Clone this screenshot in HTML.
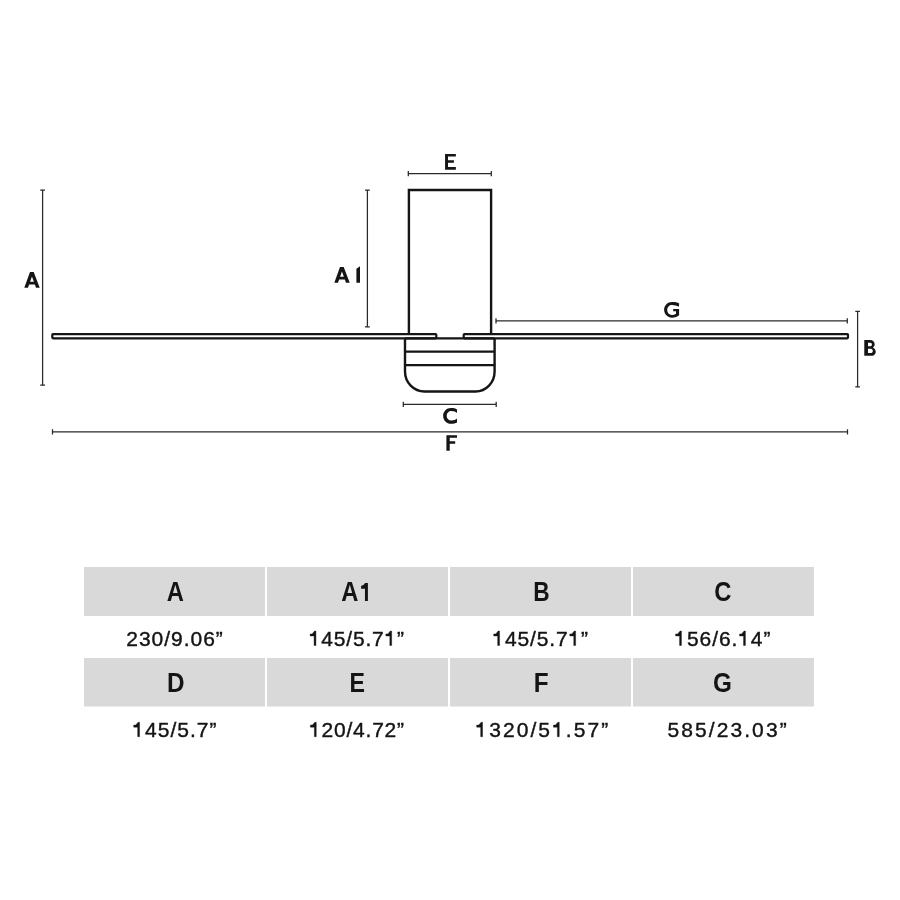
<!DOCTYPE html>
<html><head><meta charset="utf-8">
<style>
html,body{margin:0;padding:0;background:#fff;}
body{width:900px;height:900px;position:relative;overflow:hidden;font-family:"Liberation Sans",sans-serif;}
svg{position:absolute;left:0;top:0;display:block;will-change:transform;}
</style></head><body>
<svg width="900" height="900" viewBox="0 0 900 900">
  <rect x="0" y="0" width="900" height="900" fill="#fff"/>
  <g fill="none" stroke="#151515" stroke-width="2.4">
    <rect x="52.3" y="334.15" width="384.0" height="4.15" rx="0.7" stroke-width="2.2"/>
    <rect x="463.7" y="334.15" width="384.3" height="4.15" rx="0.7" stroke-width="2.2"/>
    <path d="M408.9 334.2 V190 H491.1 V334.2"/>
    <path d="M405 338.4 V371.5 A19.5 20 0 0 0 424.5 391.5 H475.6 A19 20 0 0 0 494.6 371.5 V338.4"/>
    <path d="M405 338.4 H494.6" stroke-width="2.3"/>
    <path d="M405 351.6 H494.6" stroke-width="2.2"/>
    <path d="M405 365.1 H494.6" stroke-width="2.2"/>
  </g>
  <g fill="none" stroke="#2a2a2a" stroke-width="1.25">
    <path d="M42.6 190 V385.2 M40.2 190 H45 M40.2 385.2 H45"/>
    <path d="M367.4 190 V326.8 M365 190 H369.8 M365 326.8 H369.8"/>
    <path d="M408.3 173.6 H491.3 M408.3 171 V176.2 M491.3 171 V176.2"/>
    <path d="M496 320.8 H847.3 M496 318.2 V323.4 M847.3 318.2 V323.4"/>
    <path d="M857.6 311.3 V386.9 M855.3 311.3 H859.9 M855.3 386.9 H859.9"/>
    <path d="M403.3 404.4 H496.2 M403.3 401.8 V407 M496.2 401.8 V407"/>
    <path d="M52.5 431.9 H847.5 M52.5 429.2 V434.4 M847.5 429.2 V434.4"/>
  </g>
  <g fill="#151515" fill-rule="evenodd">
    <path d="M24.3 287.7 L30 272 H33.7 L39.7 287.7 H36 L34.84 284.5 H29.13 L28 287.7 Z M30.08 281.8 H33.87 L31.95 276.5 Z"/>
    <path transform="translate(310 -5)" d="M24.3 287.7 L30 272 H33.7 L39.7 287.7 H36 L34.84 284.5 H29.13 L28 287.7 Z M30.08 281.8 H33.87 L31.95 276.5 Z"/>
    <path d="M356.4 282.7 V268.7 L360 266.2 V282.7 Z"/>
    <path d="M445.07 154 H455.87 V156.6 H448 V160.3 H453.9 V162.7 H448 V167.1 H455.87 V169.87 H445.07 Z"/>
    <path d="M446.4 435.13 H457 V437.67 H449.73 V441.27 H455.2 V443.67 H449.73 V450.73 H446.4 Z"/>
    <path d="M864.27 340 H870.2 C872.8 340 874.67 341.9 874.67 344.3 C874.67 345.9 873.9 347 872.8 347.6 C874.6 348.3 875.73 349.9 875.73 351.9 C875.73 354.2 873.8 355.87 871.2 355.87 H864.27 Z M868 342.67 H870.3 C871.3 342.67 871.9 343.4 871.9 344.45 C871.9 345.5 871.3 346.27 870.3 346.27 H868 Z M868 348.8 H870.8 C872 348.8 872.8 349.8 872.8 350.95 C872.8 352.2 872 353.07 870.8 353.07 H868 Z"/>
    <path d="M457 409.4 C455.6 408.5 453.4 408 451 408 C446.6 408 443.13 411.5 443.13 415.93 C443.13 420.3 446.6 423.87 451 423.87 C453.4 423.87 455.6 423.3 457 422.4 L457 418.6 C455.8 419.9 454 420.6 451.5 420.6 C448.8 420.6 446.7 418.5 446.7 415.75 C446.7 413 448.8 410.9 451.5 410.9 C454 410.9 455.8 411.6 457 412.9 Z"/>
    <path d="M679.2 303.4 C677.6 302.5 674.8 302 672 302 C667.6 302 664.1 305.5 664.1 309.85 C664.1 314.2 667.6 317.7 672 317.7 C674.8 317.7 677.4 316.8 679.1 315.3 V309.07 H673.2 V311.2 H676 V313.8 C674.9 314.6 673.5 315 672 315 C669.1 315 667.2 312.7 667.2 309.85 C667.2 307 669.3 304.9 672 304.9 C674.4 304.9 676.8 305.6 678.8 306.8 Z"/>
  </g>
  <rect x="84" y="567" width="181" height="49" fill="#d9d9d9"/>
  <rect x="84" y="658" width="181" height="48.5" fill="#d9d9d9"/>
  <rect x="267" y="567" width="181" height="49" fill="#d9d9d9"/>
  <rect x="267" y="658" width="181" height="48.5" fill="#d9d9d9"/>
  <rect x="450" y="567" width="181" height="49" fill="#d9d9d9"/>
  <rect x="450" y="658" width="181" height="48.5" fill="#d9d9d9"/>
  <rect x="633" y="567" width="181" height="49" fill="#d9d9d9"/>
  <rect x="633" y="658" width="181" height="48.5" fill="#d9d9d9"/>
  <g fill="#141414" font-family="Liberation Sans">
    <text transform="translate(175.2 600.7) scale(0.88 1)" text-anchor="middle" font-size="27" font-weight="bold">A</text>
    <text transform="translate(349.8 600.7) scale(0.88 1)" text-anchor="middle" font-size="27" font-weight="bold">A</text>
    <text transform="translate(541.55 600.7) scale(0.84 1)" text-anchor="middle" font-size="27" font-weight="bold">B</text>
    <text transform="translate(722.9 600.7) scale(0.88 1)" text-anchor="middle" font-size="27" font-weight="bold">C</text>
    <text transform="translate(175.75 691.6) scale(0.9 1)" text-anchor="middle" font-size="27" font-weight="bold">D</text>
    <text transform="translate(357.35 691.6) scale(0.86 1)" text-anchor="middle" font-size="27" font-weight="bold">E</text>
    <text transform="translate(541.1 691.6) scale(0.9 1)" text-anchor="middle" font-size="27" font-weight="bold">F</text>
    <text transform="translate(722.55 691.6) scale(0.9 1)" text-anchor="middle" font-size="27" font-weight="bold">G</text>
    <path d="M364.96 600.9 V588.7 H361.1 V585.9 C362.6 585.7 364.2 584.7 365 582.98 H367.9 V600.9 Z"/>
    <text transform="translate(126.3 645.5) scale(1.0 1)" font-size="21" style="letter-spacing:0.97px" stroke="#141414" stroke-width="0.4">230/9.06”</text>
    <text transform="translate(308.8 645.5) scale(1.0 1)" font-size="21" style="letter-spacing:0.81px" stroke="#141414" stroke-width="0.4"> 45/5.7 ”</text>
    <path transform="translate(308.800 645.5) scale(0.010254 -0.010254)" d="M515 0 H696 V1409 H560 L330 1130 H130 V930 H515 Z" stroke="#141414" stroke-width="39.0"/>
    <path transform="translate(384.535 645.5) scale(0.010254 -0.010254)" d="M515 0 H696 V1409 H560 L330 1130 H130 V930 H515 Z" stroke="#141414" stroke-width="39.0"/>
    <text transform="translate(492.4 645.5) scale(1.0 1)" font-size="21" style="letter-spacing:0.86px" stroke="#141414" stroke-width="0.4"> 45/5.7 ”</text>
    <path transform="translate(492.400 645.5) scale(0.010254 -0.010254)" d="M515 0 H696 V1409 H560 L330 1130 H130 V930 H515 Z" stroke="#141414" stroke-width="39.0"/>
    <path transform="translate(568.485 645.5) scale(0.010254 -0.010254)" d="M515 0 H696 V1409 H560 L330 1130 H130 V930 H515 Z" stroke="#141414" stroke-width="39.0"/>
    <text transform="translate(674.3 645.5) scale(1.0 1)" font-size="21" style="letter-spacing:0.93px" stroke="#141414" stroke-width="0.4"> 56/6. 4”</text>
    <path transform="translate(674.300 645.5) scale(0.010254 -0.010254)" d="M515 0 H696 V1409 H560 L330 1130 H130 V930 H515 Z" stroke="#141414" stroke-width="39.0"/>
    <path transform="translate(738.266 645.5) scale(0.010254 -0.010254)" d="M515 0 H696 V1409 H560 L330 1130 H130 V930 H515 Z" stroke="#141414" stroke-width="39.0"/>
    <text transform="translate(132.4 736.7) scale(1.0 1)" font-size="21" style="letter-spacing:1.0px" stroke="#141414" stroke-width="0.4"> 45/5.7”</text>
    <path transform="translate(132.400 736.7) scale(0.010254 -0.010254)" d="M515 0 H696 V1409 H560 L330 1130 H130 V930 H515 Z" stroke="#141414" stroke-width="39.0"/>
    <text transform="translate(309.1 736.7) scale(1.0 1)" font-size="21" style="letter-spacing:0.78px" stroke="#141414" stroke-width="0.4"> 20/4.72”</text>
    <path transform="translate(309.100 736.7) scale(0.010254 -0.010254)" d="M515 0 H696 V1409 H560 L330 1130 H130 V930 H515 Z" stroke="#141414" stroke-width="39.0"/>
    <text transform="translate(475.4 736.7) scale(1.0 1)" font-size="21" style="letter-spacing:2.08px" stroke="#141414" stroke-width="0.4"> 320/5 .57”</text>
    <path transform="translate(475.400 736.7) scale(0.010254 -0.010254)" d="M515 0 H696 V1409 H560 L330 1130 H130 V930 H515 Z" stroke="#141414" stroke-width="39.0"/>
    <path transform="translate(552.110 736.7) scale(0.010254 -0.010254)" d="M515 0 H696 V1409 H560 L330 1130 H130 V930 H515 Z" stroke="#141414" stroke-width="39.0"/>
    <text transform="translate(667.5 736.7) scale(1.0 1)" font-size="21" style="letter-spacing:2.08px" stroke="#141414" stroke-width="0.4">585/23.03”</text>
  </g>
</svg>
</body></html>
